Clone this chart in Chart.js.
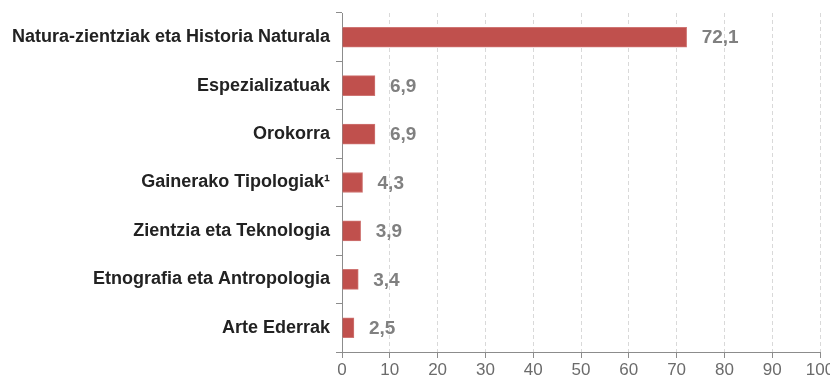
<!DOCTYPE html>
<html>
<head>
<meta charset="utf-8">
<script src="https://cdn.jsdelivr.net/npm/chart.js@4/dist/chart.umd.min.js"></script>
<style>
  html, body { margin: 0; padding: 0; background: #ffffff; }
  #wrap { width: 830px; height: 379px; position: relative; }
</style>
</head>
<body>
<div id="wrap"><canvas id="museumChart"></canvas></div>
<script>
// museum typologies, share in %
const categories = [
    'Natura-zientziak eta Historia Naturala',
    'Espezializatuak',
    'Orokorra',
    'Gainerako Tipologiak¹',
    'Zientzia eta Teknologia',
    'Etnografia eta Antropologia',
    'Arte Ederrak'
];
const shares = [72.1, 6.9, 6.9, 4.3, 3.9, 3.4, 2.5];
const xTicks = [0, 10, 20, 30, 40, 50, 60, 70, 80, 90, 100];

const FONT = "'Liberation Sans', Arial, sans-serif";

// writes the value next to the end of each bar
const valueLabels = {
    id: 'valueLabels',
    afterDatasetsDraw(chart) {
        const ctx = chart.ctx;
        const meta = chart.getDatasetMeta(0);
        ctx.save();
        ctx.font = 'bold 19px ' + FONT;
        ctx.fillStyle = '#808080';
        ctx.textAlign = 'left';
        ctx.textBaseline = 'middle';
        meta.data.forEach((bar, i) => {
            const txt = shares[i].toFixed(1).replace('.', ',');
            ctx.fillText(txt, bar.x + 15, bar.y + 1);
        });
        ctx.restore();
    }
};

const ctx = document.getElementById('museumChart').getContext('2d');
new Chart(ctx, {
    type: 'bar',
    data: {
        labels: categories,
        datasets: [{
            data: shares,
            backgroundColor: '#c0504d',
            borderColor: '#cf7573',
            borderWidth: 1,
            barThickness: 20
        }]
    },
    options: {
        indexAxis: 'y',
        responsive: true,
        maintainAspectRatio: false,
        animation: false,
        layout: { padding: { top: 13, right: 10, left: 0, bottom: 0 } },
        plugins: {
            legend: { display: false },
            tooltip: { enabled: false }
        },
        scales: {
            x: {
                min: 0,
                max: 100,
                afterBuildTicks: (scale) => { scale.ticks = xTicks.map(v => ({ value: v })); },
                afterFit: (scale) => {
                    scale.height = 27;
                    scale.paddingLeft = 0;
                    scale.paddingRight = 0;
                },
                grid: {
                    color: '#d9d9d9',
                    tickColor: '#8c8c8c',
                    tickLength: 6,
                    tickBorderDash: []
                },
                border: { color: '#8c8c8c', width: 1, dash: [4, 3] },
                ticks: {
                    color: '#6b6b6b',
                    padding: 2,
                    font: { family: FONT, size: 17 },
                    maxRotation: 0
                }
            },
            y: {
                afterFit: (scale) => {
                    scale.width = 342;
                    scale.paddingTop = 0;
                    scale.paddingBottom = 0;
                },
                grid: {
                    drawOnChartArea: false,
                    tickColor: '#8c8c8c',
                    tickLength: 6,
                    offset: true
                },
                border: { color: '#8c8c8c', width: 1 },
                ticks: {
                    color: '#222222',
                    padding: 6,
                    font: { family: FONT, size: 18, weight: 'bold' }
                }
            }
        }
    },
    plugins: [valueLabels]
});
</script>
</body>
</html>
